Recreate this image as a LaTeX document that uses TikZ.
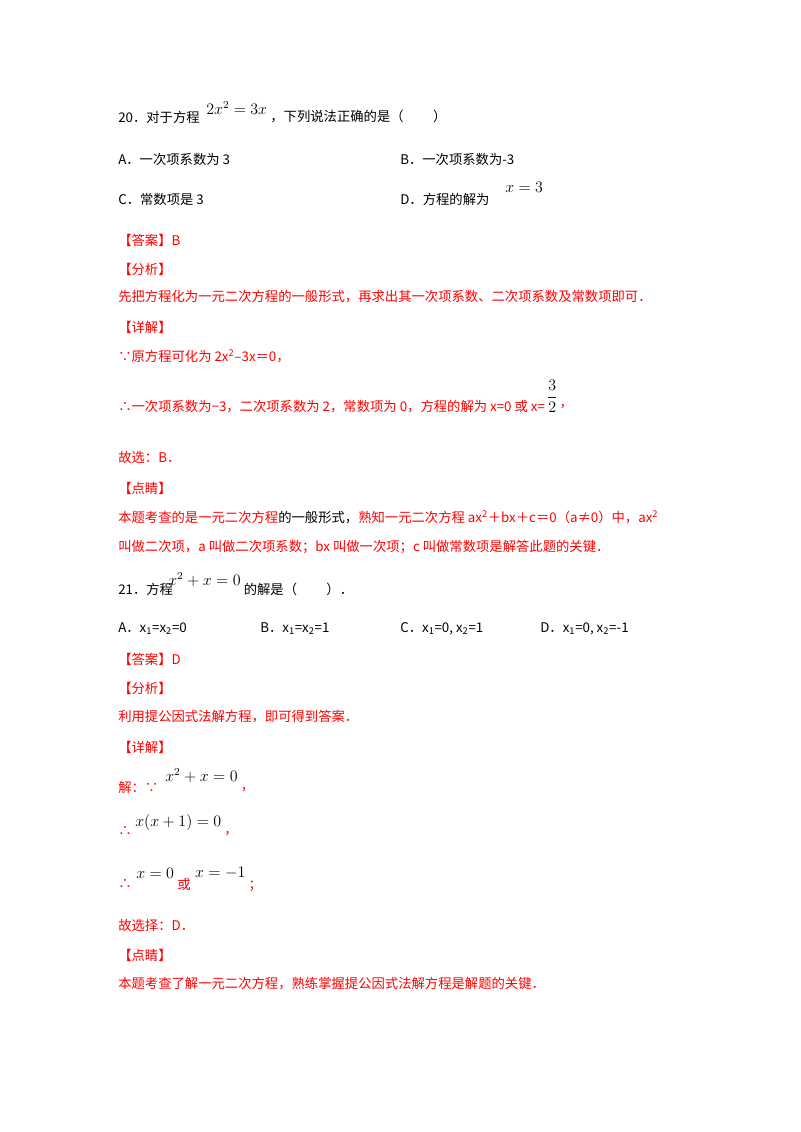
\documentclass[tikz,border=0pt]{standalone}
\usepackage{fontspec}
\setmainfont{Noto Sans CJK SC}
\usepackage{xcolor}
\definecolor{rd}{RGB}{255,0,0}
\begin{document}
\begin{tikzpicture}[x=0.75pt,y=-0.75pt,
  t/.style={anchor=west,inner sep=0pt,font=\fontsize{10pt}{12pt}\selectfont},
  r/.style={t,text=rd},
  m/.style={anchor=west,inner sep=0pt,font=\fontsize{12pt}{14pt}\selectfont}]
\useasboundingbox[fill=white] (0,0) rectangle (800,1132);
\node[t] (q20) at (118,117) {20．对于方程};
\node[m] (e1) at (206,108) {$2x^2=3x$};
\node[t] (q20b) at ([xshift=2pt]e1.east |- q20) {，下列说法正确的是（\hspace{2.2em}）};
\node[t] (a1) at (118,159) {A．一次项系数为 3};
\node[t] (b1) at (400,159) {B．一次项系数为-3};
\node[t] (c1) at (118,199) {C．常数项是 3};
\node[t] (d1) at (400,199) {D．方程的解为};
\node[m] (e2) at (505,187) {$x=3$};
\node[r] (ans1) at (118,240) {【答案】B};
\node[r] (fx1) at (118,269) {【分析】};
\node[r] (fx1t) at (118,297) {先把方程化为一元二次方程的一般形式，再求出其一次项系数、二次项系数及常数项即可．};
\node[r] (xj1) at (118,327) {【详解】};
\node[r] (s1) at (118,356) {∵原方程可化为 2x\textsuperscript{2}–3x＝0，};
\node[r] (s2) at (118,407) {∴一次项系数为−3，二次项系数为 2，常数项为 0，方程的解为 x=0 或 x=};
\node[m,anchor=west] (fr) at ([xshift=1pt,yshift=8pt]s2.east) {$\displaystyle\frac{3}{2}$};
\node[r] (s2b) at ([xshift=1pt]fr.east |- s2) {，};
\node[r] (gx1) at (118,457) {故选：B．};
\node[r] (dj1) at (118,488) {【点睛】};
\node[t] (dj1t) at (118,517) {\textcolor{rd}{本题考查的是一元二次方程}的一般形式，\textcolor{rd}{熟知一元二次方程 ax\textsuperscript{2}＋bx＋c＝0（a≠0）中，ax\textsuperscript{2}}};
\node[r] (dj1u) at (118,547) {叫做二次项，a 叫做二次项系数；bx 叫做一次项；c 叫做常数项是解答此题的关键．};
\node[t] (q21) at (118,589) {21．方程};
\node[m] (e3) at (168,580) {$x^2+x=0$};
\node[t] (q21b) at ([xshift=2pt]e3.east |- q21) {的解是（\hspace{2.2em}）．};
\node[t] (a2) at (118,629) {A．x\textsubscript{1}=x\textsubscript{2}=0};
\node[t] (b2) at (260,629) {B．x\textsubscript{1}=x\textsubscript{2}=1};
\node[t] (c2) at (400,629) {C．x\textsubscript{1}=0, x\textsubscript{2}=1};
\node[t] (d2) at (540,629) {D．x\textsubscript{1}=0, x\textsubscript{2}=-1};
\node[r] (ans2) at (118,659) {【答案】D};
\node[r] (fx2) at (118,688) {【分析】};
\node[r] (fx2t) at (118,717) {利用提公因式法解方程，即可得到答案．};
\node[r] (xj2) at (118,747) {【详解】};
\node[r] (j1) at (118,787) {解：∵};
\node[m] (e4) at (165,776) {$x^2+x=0$};
\node[r] (j1b) at ([xshift=2pt,yshift=-2pt]e4.east |- j1) {，};
\node[r] (j2) at (118,831) {∴};
\node[m] (e5) at (135,822) {$x(x+1)=0$};
\node[r] (j2b) at ([xshift=2pt,yshift=-2pt]e5.east |- j2) {，};
\node[r] (j3) at (118,884) {∴};
\node[m] (e6) at (136,873) {$x=0$};
\node[r] (j3o) at ([xshift=2pt]e6.east |- j3) {或};
\node[m] (e7) at ([xshift=3pt]j3o.east |- e6) {$x=-1$};
\node[r] (j3b) at ([xshift=2pt,yshift=-2pt]e7.east |- j3) {；};
\node[r] (gx2) at (118,925) {故选择：D．};
\node[r] (dj2) at (118,955) {【点睛】};
\node[r] (dj2t) at (118,984) {本题考查了解一元二次方程，熟练掌握提公因式法解方程是解题的关键．};
\end{tikzpicture}
\end{document}
